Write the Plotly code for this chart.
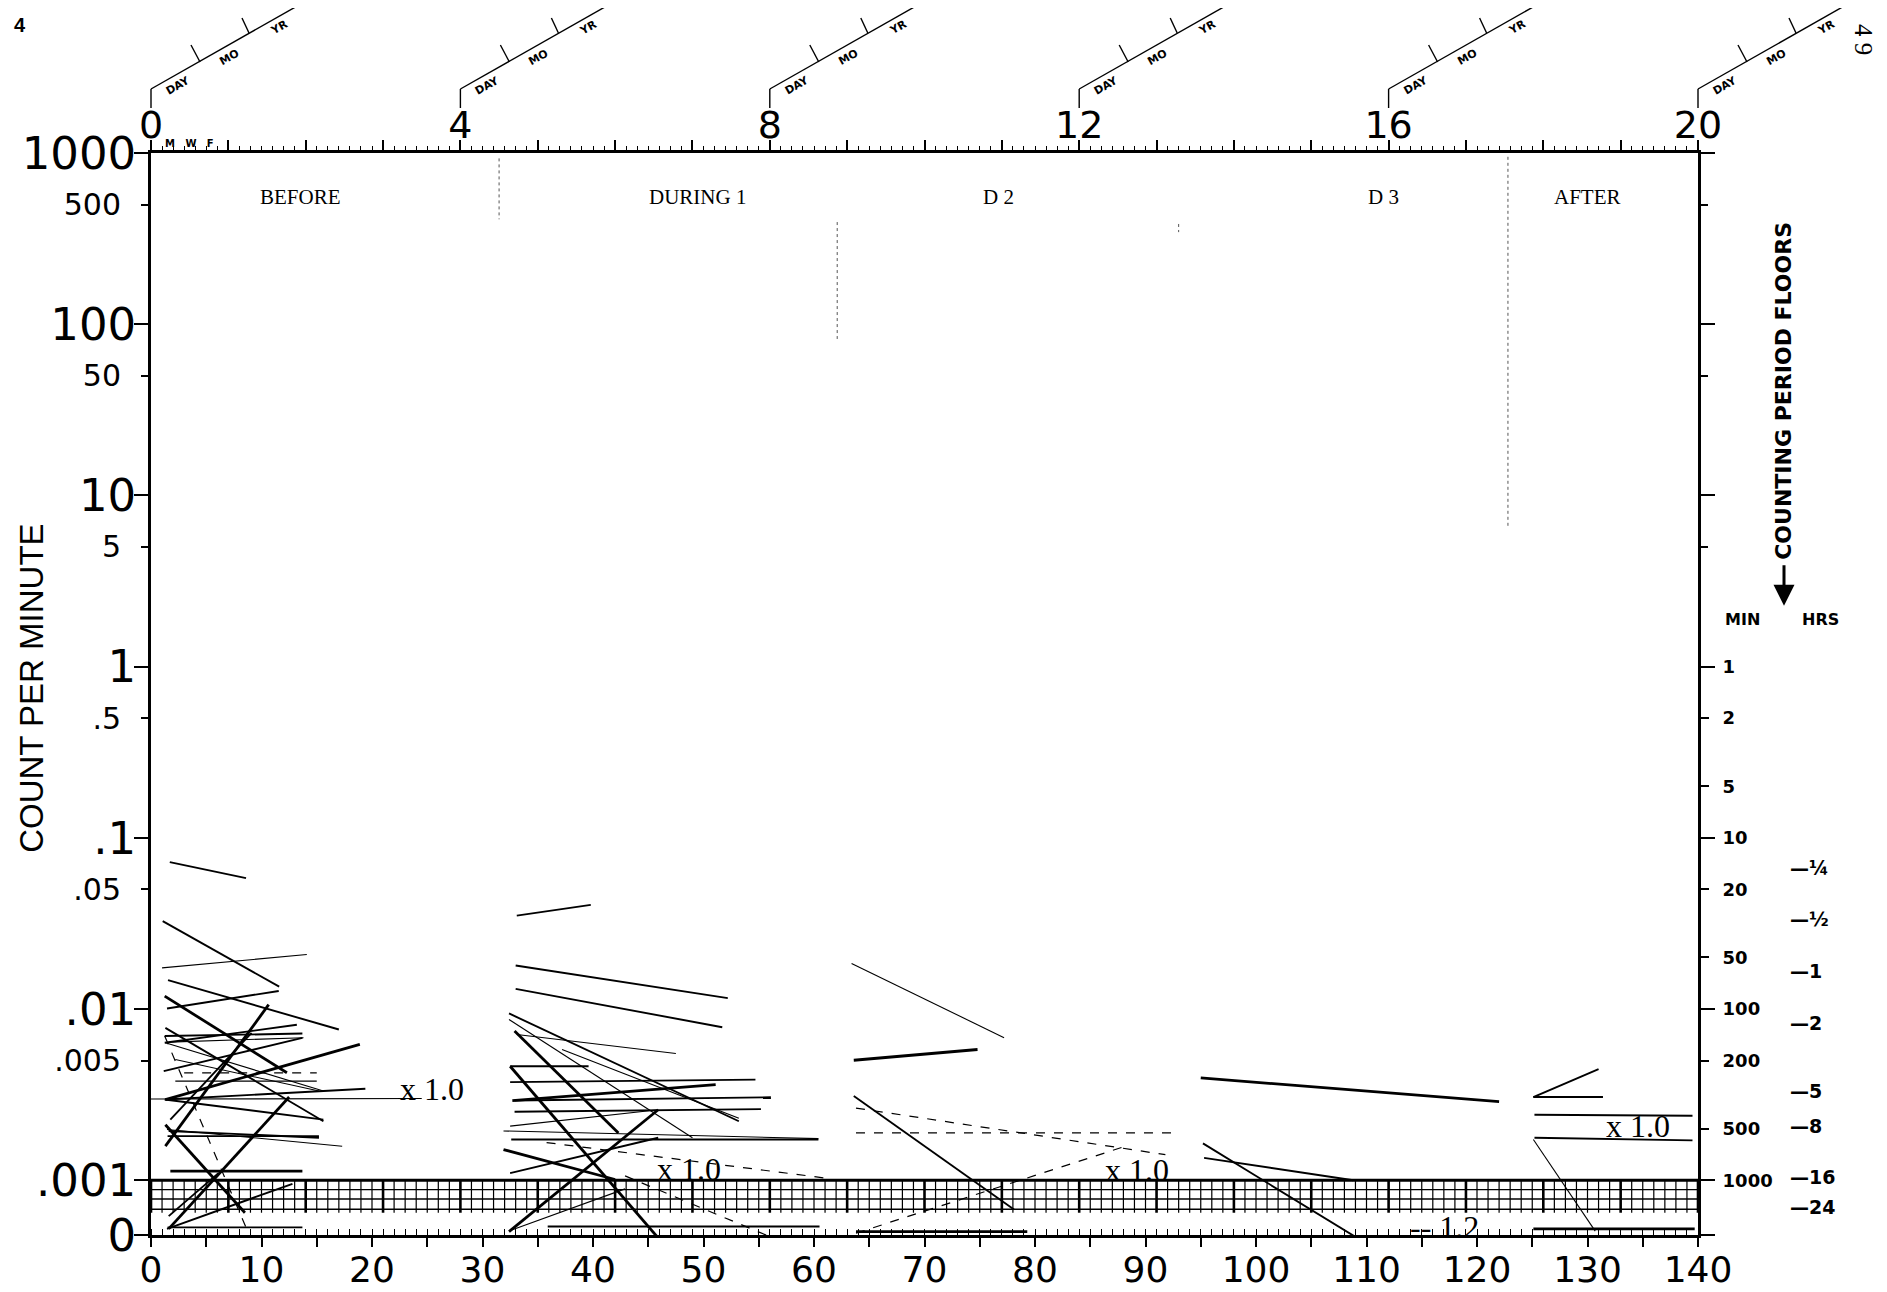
import math
import plotly.graph_objects as go

# ---------------- data ----------------
DAY_MAX = 140
WEEK_MAX = 20
BOTTOM_TICKS = list(range(0, 141, 5))
TOP_TICKS = list(range(0, 21))

Y_BIG_VALS = [1000, 100, 10, 1, 0.1, 0.01, 0.001]
Y_BIG_TEXT = ["1000", "100", "10", "1", ".1", ".01", ".001"]
Y_SMALL_VALS = [500, 50, 5, 0.5, 0.05, 0.005]
Y_SMALL_TEXT = ["500", "50", "5", ".5", ".05", ".005"]
ZERO_ROW = 10 ** -3.32          # the "0" count row below the .001 floor
FLOOR = 0.001

MIN_FLOORS = [1, 2, 5, 10, 20, 50, 100, 200, 500, 1000]
HRS_MINUTES = [15, 30, 60, 120, 300, 480, 960, 1440]
HRS_TEXT = ["¼", "½", "1", "2", "5", "8", "16", "24"]

PHASES = ["BEFORE", "DURING 1", "D 2", "D 3", "AFTER"]
PHASE_DAY = [13.5, 49.5, 76.7, 111.5, 130.0]
PHASE_VAL = 550

MULT_TEXT = ["x 1.0", "x 1.0", "x 1.0", "x 1.0", "-- 1.2"]
MULT_DAY = [25.4, 48.7, 89.2, 134.6, 117.1]
MULT_VAL = [0.00342, 0.00116, 0.00115, 0.00207, 0.000536]

# celeration lines: (start day, start count, end day, end count)
HEAVY_LINES = [
    (1.24, 0.0119, 12.3, 0.00424), (1.3, 0.00296, 18.9, 0.00621),
    (1.3, 0.00158, 10.65, 0.0106), (1.6, 0.00052, 12.5, 0.00306),
    (1.3, 0.00211, 8.5, 0.000646), (1.75, 0.00113, 13.7, 0.00113),
    (32.9, 0.00743, 42.3, 0.00189), (32.5, 0.00463, 45.9, 0.00046),
    (32.7, 0.00292, 51.1, 0.00362), (31.9, 0.00151, 42.0, 0.00101),
    (32.4, 0.000501, 45.9, 0.00258),
    (63.6, 0.00502, 74.8, 0.0058), (63.8, 0.000501, 79.3, 0.000501),
    (95.0, 0.00396, 122.0, 0.00288),
    (125.1, 0.00052, 139.7, 0.00052),
]
MEDIUM_LINES = [
    (1.7, 0.0721, 8.6, 0.0582), (1.06, 0.0326, 11.6, 0.0135),
    (1.54, 0.01476, 17.0, 0.00759), (1.45, 0.01007, 11.56, 0.01274),
    (1.3, 0.00776, 15.6, 0.00221), (1.24, 0.00695, 13.7, 0.00719),
    (1.24, 0.00635, 13.2, 0.00809), (1.15, 0.00434, 13.7, 0.00679),
    (1.3, 0.00296, 19.4, 0.00342), (1.75, 0.00226, 9.1, 0.00726),
    (1.6, 0.00194, 15.2, 0.00177), (1.5, 0.00181, 15.2, 0.00181),
    (1.24, 0.00296, 15.6, 0.00226), (1.45, 0.00052, 12.8, 0.000953),
    (1.6, 0.000617, 6.1, 0.0011), (1.5, 0.00053, 13.7, 0.00053),
    (33.1, 0.0351, 39.8, 0.0406), (33.0, 0.01795, 52.2, 0.01158),
    (33.0, 0.01312, 51.7, 0.00783), (32.4, 0.00942, 53.2, 0.00221),
    (32.5, 0.00463, 39.6, 0.00463), (32.5, 0.00374, 54.7, 0.00387),
    (32.9, 0.00292, 56.1, 0.00305), (32.9, 0.00251, 55.2, 0.0026),
    (32.6, 0.00173, 60.4, 0.00173), (32.5, 0.0011, 45.9, 0.00177),
    (35.9, 0.000537, 60.5, 0.000537),
    (63.6, 0.0031, 78.1, 0.000675),
    (95.2, 0.00164, 109.4, 0.00045), (95.3, 0.00135, 108.8, 0.001),
    (125.1, 0.00306, 131.0, 0.00445), (125.1, 0.00306, 131.4, 0.00306),
    (125.2, 0.00241, 139.5, 0.00238), (125.2, 0.00177, 139.5, 0.00171),
]
LIGHT_LINES = [
    (1.0, 0.0174, 14.1, 0.0208), (1.6, 0.00641, 13.8, 0.00679),
    (0.0, 0.00298, 24.5, 0.0030), (1.45, 0.00198, 17.3, 0.00158),
    (2.2, 0.00507, 15.2, 0.00332), (1.3, 0.00635, 15.6, 0.00332),
    (2.2, 0.00379, 15.0, 0.00379),
    (32.4, 0.00869, 49.0, 0.00177), (33.1, 0.0071, 47.5, 0.0055),
    (37.2, 0.0058, 53.2, 0.0023), (31.9, 0.00194, 60.4, 0.00175),
    (32.7, 0.000513, 42.9, 0.00089), (32.5, 0.00207, 45.9, 0.00258),
    (63.4, 0.01845, 77.2, 0.0068),
    (125.1, 0.00173, 130.7, 0.000504),
]
DASHED_LINES = [
    (1.24, 0.00695, 8.8, 0.000493), (3.0, 0.00424, 15.0, 0.00424),
    (35.8, 0.00166, 61.0, 0.00103), (42.9, 0.00106, 55.9, 0.000471),
    (63.8, 0.00264, 91.8, 0.00141), (63.8, 0.00189, 92.8, 0.00189),
    (63.8, 0.00049, 88.2, 0.00158),
]
# faint phase-change marks: (day, top count, bottom count)
PHASE_MARKS = [(31.5, 930, 410), (62.1, 395, 82), (93.0, 385, 345), (122.8, 950, 6.5)]

# ---------------- helpers ----------------
def seg_xy(segs):
    xs, ys = [], []
    for d1, v1, d2, v2 in segs:
        xs += [d1, d2, None]
        ys += [v1, v2, None]
    return xs, ys

NUM_FONT = "DejaVu Sans"
SERIF = "Liberation Serif"
fig = go.Figure()

# floor hatch grid (below .001)
HATCH_LEVELS = [10 ** -3.055, 10 ** -3.11, 10 ** -3.17]
hx, hy = [], []
for lv in HATCH_LEVELS:
    hx += [0, DAY_MAX, None]
    hy += [lv, lv, None]
fig.add_trace(go.Scatter(x=hx, y=hy, mode="lines", line=dict(color="black", width=1.4),
                         hoverinfo="skip", showlegend=False))
vx, vy, wx, wy = [], [], [], []
for d in range(0, DAY_MAX + 1):
    if d % 7 == 0:
        wx += [d, d, None]; wy += [FLOOR, 10 ** -3.19, None]
    else:
        vx += [d, d, None]; vy += [FLOOR, 10 ** -3.19, None]
fig.add_trace(go.Scatter(x=vx, y=vy, mode="lines", line=dict(color="black", width=1.2),
                         hoverinfo="skip", showlegend=False))
fig.add_trace(go.Scatter(x=wx, y=wy, mode="lines", line=dict(color="black", width=2.6),
                         hoverinfo="skip", showlegend=False))
fig.add_trace(go.Scatter(x=[0, DAY_MAX], y=[FLOOR, FLOOR], mode="lines",
                         line=dict(color="black", width=3.0), hoverinfo="skip", showlegend=False))

# phase marks
for d, top, bot in PHASE_MARKS:
    fig.add_trace(go.Scatter(x=[d, d], y=[top, bot], mode="lines",
                             line=dict(color="#555555", width=1.0, dash="dot"),
                             hoverinfo="skip", showlegend=False))

# celeration lines
for segs, width, dash in [(LIGHT_LINES, 1.1, "solid"), (DASHED_LINES, 1.2, "dash"),
                          (MEDIUM_LINES, 1.9, "solid"), (HEAVY_LINES, 2.8, "solid")]:
    xs, ys = seg_xy(segs)
    fig.add_trace(go.Scatter(x=xs, y=ys, mode="lines",
                             line=dict(color="black", width=width, dash=dash),
                             hoverinfo="skip", showlegend=False))

# dummy traces to attach overlay axes
fig.add_trace(go.Scatter(x=[0, WEEK_MAX], y=[1, 1], xaxis="x2", yaxis="y",
                         mode="lines", line=dict(width=0), opacity=0, showlegend=False, hoverinfo="skip"))
fig.add_trace(go.Scatter(x=[0, DAY_MAX], y=[1, 1], xaxis="x", yaxis="y3",
                         mode="lines", line=dict(width=0), opacity=0, showlegend=False, hoverinfo="skip"))
fig.add_trace(go.Scatter(x=[0, DAY_MAX], y=[1, 1], xaxis="x", yaxis="y4",
                         mode="lines", line=dict(width=0), opacity=0, showlegend=False, hoverinfo="skip"))

YR = [math.log10(ZERO_ROW), 3.0]

def ann(**kw):
    kw.setdefault("showarrow", False)
    kw.setdefault("xanchor", "center")
    kw.setdefault("yanchor", "middle")
    return kw

annotations = []
for t, d in zip(PHASES, PHASE_DAY):
    annotations.append(ann(x=d, y=math.log10(PHASE_VAL), xref="x", yref="y", text=t,
                           font=dict(family=SERIF, size=21, color="black")))
for t, d, v in zip(MULT_TEXT, MULT_DAY, MULT_VAL):
    annotations.append(ann(x=d, y=math.log10(v), xref="x", yref="y", text=t,
                           font=dict(family=SERIF, size=32, color="black")))
for t, m in zip(HRS_TEXT, HRS_MINUTES):
    annotations.append(ann(x=1, xref="paper", xshift=90, xanchor="left",
                           y=math.log10(1.0 / m), yref="y", text="—" + t,
                           font=dict(family=NUM_FONT, size=19, color="black", weight="bold")))
annotations.append(ann(x=1, xref="paper", xshift=44, y=0.273, yref="y", text="MIN",
                       font=dict(family=NUM_FONT, size=16, color="black", weight="bold")))
annotations.append(ann(x=1, xref="paper", xshift=122, y=0.273, yref="y", text="HRS",
                       font=dict(family=NUM_FONT, size=16, color="black", weight="bold")))
annotations.append(ann(x=1, xref="paper", xshift=86, y=1.611, yref="y", text="COUNTING PERIOD FLOORS",
                       textangle=-90,
                       font=dict(family=NUM_FONT, size=22, color="black", weight="bold")))
annotations.append(dict(x=1, xref="paper", xshift=86, y=0.355, yref="y", text="",
                        showarrow=True, ax=0, ay=-42, arrowhead=2, arrowsize=1.4, arrowwidth=3,
                        arrowcolor="black"))
annotations.append(ann(x=0, xref="paper", xshift=-119, y=-0.13, yref="y", text="COUNT PER MINUTE",
                       textangle=-90,
                       font=dict(family="Liberation Sans", size=33, color="black")))
annotations.append(ann(x=0, xref="paper", xshift=-131, y=1, yref="paper", yshift=128,
                       text="4", font=dict(family="Liberation Sans", size=20, color="black", weight="bold")))
annotations.append(ann(x=1, xref="paper", xshift=166, y=1, yref="paper", yshift=114,
                       text="4 9", textangle=90,
                       font=dict(family="Liberation Serif", size=25, color="black")))
annotations.append(ann(x=0, xref="x2", xshift=38, y=1, yref="paper", yshift=10,
                       text="M   W   F",
                       font=dict(family=NUM_FONT, size=10, color="black", weight="bold")))

# DAY / MO / YR brackets above every 4th week
shapes = []
BRACKET_WEEKS = [w for w in TOP_TICKS if w % 4 == 0]
for w in BRACKET_WEEKS:
    base = dict(type="line", xref="paper", yref="paper", xsizemode="pixel", ysizemode="pixel",
                xanchor=w / WEEK_MAX, yanchor=1, line=dict(color="black", width=1.4))
    for (x0, y0, x1, y1) in [(0, 45, 0, 64), (0, 64, 148, 148),
                             (49, 91, 40, 108), (98, 120, 91, 135)]:
        s = dict(base); s.update(x0=x0, y0=y0, x1=x1, y1=y1)
        shapes.append(s)
    for txt, dx, dy in [("DAY", 27, 68), ("MO", 78, 96), ("YR", 128, 126)]:
        annotations.append(ann(x=w, xref="x2", xshift=dx, y=1, yref="paper", yshift=dy,
                               text=txt, textangle=-29.6,
                               font=dict(family=NUM_FONT, size=11, color="black", weight="bold")))

fig.update_layout(
    width=1887, height=1292,
    margin=dict(l=143, r=197, t=145, b=65, pad=0, autoexpand=False),
    paper_bgcolor="white", plot_bgcolor="white",
    showlegend=False,
    xaxis=dict(range=[0, DAY_MAX], showgrid=False, zeroline=False, automargin=False,
               showline=True, linecolor="black", linewidth=2.6,
               tickmode="array", tickvals=BOTTOM_TICKS,
               ticktext=[str(v) if v % 10 == 0 else "" for v in BOTTOM_TICKS],
               ticks="outside", ticklen=9, tickwidth=2, tickcolor="black",
               ticklabelstandoff=-8,
               tickfont=dict(family=NUM_FONT, size=36, color="black"),
               minor=dict(tickmode="linear", tick0=0, dtick=1, ticks="inside", ticklen=6,
                          tickwidth=1.2, tickcolor="black", showgrid=False)),
    xaxis2=dict(range=[0, WEEK_MAX], overlaying="x", side="top", anchor="y", automargin=False,
                showgrid=False, zeroline=False, showline=True, linecolor="black", linewidth=2.6,
                tickmode="array", tickvals=TOP_TICKS,
                ticktext=[str(w) if w % 4 == 0 else "" for w in TOP_TICKS],
                ticks="outside", ticklen=10, tickwidth=2, tickcolor="black",
                ticklabelstandoff=-13,
                tickfont=dict(family=NUM_FONT, size=38, color="black"),
                minor=dict(tickmode="linear", tick0=0, dtick=1 / 7, ticks="outside", ticklen=4,
                           tickwidth=1, tickcolor="black", showgrid=False)),
    yaxis=dict(type="log", range=YR, showgrid=False, zeroline=False, automargin=False,
               showline=True, linecolor="black", linewidth=2.6, mirror="ticks",
               tickmode="array", tickvals=Y_BIG_VALS + [ZERO_ROW], ticktext=Y_BIG_TEXT + ["0"],
               ticks="outside", ticklen=14, tickwidth=2, tickcolor="black",
               ticklabelstandoff=-11,
               tickfont=dict(family=NUM_FONT, size=45, color="black")),
    yaxis3=dict(type="log", range=YR, overlaying="y", side="left", anchor="x", automargin=False,
                showgrid=False, zeroline=False, showline=False, mirror="ticks",
                tickmode="array", tickvals=Y_SMALL_VALS, ticktext=Y_SMALL_TEXT,
                ticks="outside", ticklen=9, tickwidth=2, tickcolor="black",
                ticklabelstandoff=14,
                tickfont=dict(family=NUM_FONT, size=30, color="black")),
    yaxis4=dict(type="log", range=YR, overlaying="y", side="right", anchor="x", automargin=False,
                showgrid=False, zeroline=False, showline=False,
                tickmode="array", tickvals=[1.0 / m for m in MIN_FLOORS],
                ticktext=[str(m) for m in MIN_FLOORS],
                ticks="outside", ticklen=10, tickwidth=2, tickcolor="black",
                ticklabelstandoff=10,
                tickfont=dict(family=NUM_FONT, size=18, color="black", weight="bold")),
    annotations=annotations,
    shapes=shapes,
)

fig.write_html("out.html")
